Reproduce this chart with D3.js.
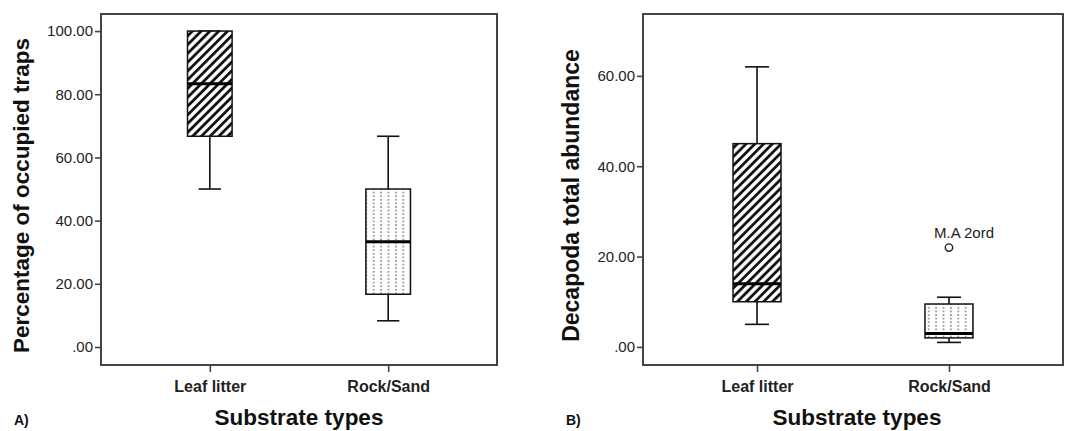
<!DOCTYPE html>
<html>
<head>
<meta charset="utf-8">
<script src="https://cdn.jsdelivr.net/npm/d3@7"></script>
<style>
  body { margin: 0; background: #fff; }
  svg { display: block; font-family: "Liberation Sans", Arial, sans-serif; }
</style>
</head>
<body>
<div id="chart"></div>
<script>
"use strict"

// categories on the x axis
const substrates = ["Leaf litter", "Rock/Sand"];

// panel A: percentage of occupied traps (whisker low, Q1, median, Q3, whisker high)
const occLow    = [50.0, 8.3];
const occQ1     = [66.7, 16.7];
const occMedian = [83.3, 33.3];
const occQ3     = [100.0, 50.0];
const occHigh   = [100.0, 66.7];
const occTicks  = [0, 20, 40, 60, 80, 100];

// panel B: decapoda total abundance
const decLow    = [5, 1];
const decQ1     = [10, 2];
const decMedian = [14, 3];
const decQ3     = [45, 9.5];
const decHigh   = [62, 11];
const decTicks  = [0, 20, 40, 60];
const decOutliers = [{cat: "Rock/Sand", value: 22, label: "M.A 2ord"}];

const svg = d3.select("#chart").append("svg")
  .attr("width", 1080)
  .attr("height", 431);

svg.append("rect").attr("width", 1080).attr("height", 431).attr("fill", "#fff");

// fill patterns: diagonal hatch and dotted columns
const defs = svg.append("defs");
const hatch = defs.append("pattern")
  .attr("id", "hatch")
  .attr("patternUnits", "userSpaceOnUse")
  .attr("width", 6.2).attr("height", 6.2)
  .attr("patternTransform", "rotate(45)");
hatch.append("rect").attr("width", 6.2).attr("height", 6.2).attr("fill", "#fff");
hatch.append("line")
  .attr("x1", 3.1).attr("y1", 0).attr("x2", 3.1).attr("y2", 6.2)
  .attr("stroke", "#111").attr("stroke-width", 2.8);

const dots = defs.append("pattern")
  .attr("id", "dots")
  .attr("patternUnits", "userSpaceOnUse")
  .attr("width", 7.4).attr("height", 3.6);
dots.append("rect").attr("width", 7.4).attr("height", 3.6).attr("fill", "#fff");
dots.append("rect")
  .attr("x", 3).attr("y", 1).attr("width", 1.4).attr("height", 1.6)
  .attr("fill", "#6e6e6e");

function drawPanel(opt) {
  const g = svg.append("g");
  const x = d3.scalePoint()
    .domain(substrates)
    .range([opt.left, opt.right])
    .padding(opt.pad);
  const y = d3.scaleLinear()
    .domain(opt.domain)
    .range([opt.bottom, opt.top]);
  const boxW = x.step() * 0.25;

  const stats = substrates.map((c, i) => ({
    cat: c, low: opt.low[i], q1: opt.q1[i], med: opt.med[i], q3: opt.q3[i], high: opt.high[i],
    fill: i === 0 ? "url(#hatch)" : "url(#dots)"
  }));

  // whiskers
  stats.forEach(d => {
    const cx = x(d.cat);
    g.append("line").attr("x1", cx).attr("x2", cx).attr("y1", y(d.high)).attr("y2", y(d.q3))
      .attr("stroke", "#111").attr("stroke-width", 1.6);
    g.append("line").attr("x1", cx).attr("x2", cx).attr("y1", y(d.q1)).attr("y2", y(d.low))
      .attr("stroke", "#111").attr("stroke-width", 1.6);
    [d.low, d.high].forEach(v => {
      g.append("line").attr("x1", cx - boxW / 4).attr("x2", cx + boxW / 4)
        .attr("y1", y(v)).attr("y2", y(v))
        .attr("stroke", "#111").attr("stroke-width", 1.6);
    });
  });

  // boxes
  g.selectAll(".box").data(stats).enter()
    .append("rect")
      .attr("x", d => x(d.cat) - boxW / 2)
      .attr("y", d => y(d.q3))
      .attr("width", boxW)
      .attr("height", d => y(d.q1) - y(d.q3))
      .attr("fill", d => d.fill)
      .attr("stroke", "#111")
      .attr("stroke-width", 1.5);

  g.selectAll(".med").data(stats).enter()
    .append("line")
      .attr("x1", d => x(d.cat) - boxW / 2)
      .attr("x2", d => x(d.cat) + boxW / 2)
      .attr("y1", d => y(d.med))
      .attr("y2", d => y(d.med))
      .attr("stroke", "#000")
      .attr("stroke-width", 3);

  // outliers
  (opt.outliers || []).forEach(o => {
    g.append("circle").attr("cx", x(o.cat)).attr("cy", y(o.value)).attr("r", 3.7)
      .attr("fill", "none").attr("stroke", "#222").attr("stroke-width", 1.4);
    g.append("text").attr("x", x(o.cat) - 15).attr("y", y(o.value) - 10)
      .style("font-size", "15px").attr("fill", "#222").text(o.label);
  });

  // frame
  g.append("rect")
    .attr("x", opt.left).attr("y", opt.top)
    .attr("width", opt.right - opt.left).attr("height", opt.bottom - opt.top)
    .attr("fill", "none").attr("stroke", "#444").attr("stroke-width", 2);

  // y axis
  const yAxis = g.append("g")
    .attr("transform", "translate(" + opt.left + ",0)")
    .call(d3.axisLeft(y).tickValues(opt.ticks).tickSize(6).tickPadding(2)
      .tickFormat(d => d === 0 ? ".00" : d3.format(".2f")(d)));
  yAxis.select(".domain").remove();
  yAxis.selectAll("line").attr("stroke", "#444").attr("stroke-width", 1.6);
  yAxis.selectAll("text").style("font-size", "15px").style("font-family", "Liberation Sans, Arial, sans-serif").attr("fill", "#222");

  // x axis
  const xAxis = g.append("g")
    .attr("transform", "translate(0," + opt.bottom + ")")
    .call(d3.axisBottom(x).tickSize(7).tickPadding(9));
  xAxis.select(".domain").remove();
  xAxis.selectAll("line").attr("stroke", "#444").attr("stroke-width", 1.6);
  xAxis.selectAll("text").style("font-size", "16px").style("font-weight", "bold")
    .style("font-family", "Liberation Sans, Arial, sans-serif").attr("fill", "#222");

  // titles
  g.append("text")
    .attr("transform", "translate(" + opt.yTitleX + "," + ((opt.top + opt.bottom) / 2 + 6) + ") rotate(-90)")
    .attr("text-anchor", "middle")
    .style("font-size", opt.yTitleSize).style("font-weight", "bold")
    .attr("fill", "#111")
    .text(opt.yTitle);
  g.append("text")
    .attr("x", (opt.left + opt.right) / 2 + opt.xTitleShift).attr("y", 425)
    .attr("text-anchor", "middle")
    .style("font-size", "22.5px").style("font-weight", "bold")
    .attr("fill", "#111")
    .text("Substrate types");
  g.append("text")
    .attr("x", opt.tagX).attr("y", 425)
    .style("font-size", "14px").style("font-weight", "bold")
    .attr("fill", "#111")
    .text(opt.tag);
}

drawPanel({
  left: 101, right: 497, top: 14, bottom: 365, pad: 0.61,
  domain: [-5.7, 105.4], ticks: occTicks,
  low: occLow, q1: occQ1, med: occMedian, q3: occQ3, high: occHigh,
  yTitle: "Percentage of occupied traps", yTitleX: 29, yTitleSize: "22.5px",
  xTitleShift: 0, tag: "A)", tagX: 14
});

drawPanel({
  left: 643, right: 1063, top: 14, bottom: 365, pad: 0.594,
  domain: [-4, 73.7], ticks: decTicks,
  low: decLow, q1: decQ1, med: decMedian, q3: decQ3, high: decHigh,
  outliers: decOutliers,
  yTitle: "Decapoda total abundance", yTitleX: 579, yTitleSize: "23px",
  xTitleShift: 4, tag: "B)", tagX: 566
});
</script>
</body>
</html>
